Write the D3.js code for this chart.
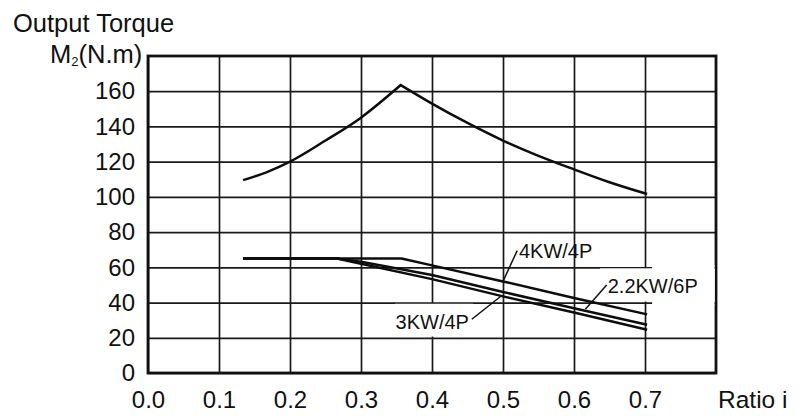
<!DOCTYPE html>
<html>
<head>
<meta charset="utf-8">
<script src="https://cdn.jsdelivr.net/npm/d3@7"></script>
<style>
  html, body { margin: 0; padding: 0; background: #fff; }
  svg { display: block; font-family: "Liberation Sans", Arial, sans-serif; }
</style>
</head>
<body>
<svg id="chart" width="799" height="416"></svg>
<script>
// Axis ticks
const ratioTicks = [0, 0.1, 0.2, 0.3, 0.4, 0.5, 0.6, 0.7];
const torqueTicks = [0, 20, 40, 60, 80, 100, 120, 140, 160];

// Peak output torque envelope: rising branch up to the peak, falling branch after it
const peakRiseRatio  = [0.134, 0.17, 0.2, 0.25, 0.3, 0.356];
const peakRiseTorque = [109.5, 114.5, 120, 132, 145, 163.5];
const peakFallRatio  = [0.356, 0.4, 0.45, 0.5, 0.55, 0.6, 0.65, 0.703];
const peakFallTorque = [163.5, 153, 142, 132, 123.3, 115.6, 108.3, 101.6];

// Motor rating curves
const kw4Ratio  = [0.134, 0.357, 0.4, 0.5, 0.6, 0.703];
const kw4Torque = [65, 65, 61.1, 52, 42.6, 33.3];

const kw22Ratio  = [0.134, 0.266, 0.3, 0.4, 0.5, 0.6, 0.703];
const kw22Torque = [65, 65, 63.2, 55.6, 46, 36.8, 27.4];

const kw3Ratio  = [0.134, 0.266, 0.3, 0.4, 0.5, 0.6, 0.703];
const kw3Torque = [65, 65, 62, 53.3, 43.5, 34.4, 24.6];

const seriesNames = ["4KW/4P", "2.2KW/6P", "3KW/4P"];

const svg = d3.select("#chart");
const x = d3.scaleLinear().domain([0, 0.8]).range([148, 716]);
const y = d3.scaleLinear().domain([0, 180]).range([373, 56]);
const W = x(0.8) - x(0), H = y(0) - y(180);

// Grid + tick labels
const xAxis = d3.axisBottom(x).tickValues(ratioTicks).tickFormat(d3.format(".1f"))
  .tickSizeInner(-H).tickSizeOuter(0).tickPadding(18);
const gx = svg.append("g").attr("transform", `translate(0,${y(0)})`).call(xAxis);
gx.select(".domain").remove();
gx.selectAll("line").attr("stroke", "#1a1a1a").attr("stroke-width", 1.7);
gx.selectAll("text").attr("font-size", 24).attr("font-family", "Liberation Sans, Arial, sans-serif").attr("fill", "#111");

const yAxis = d3.axisLeft(y).tickValues(torqueTicks).tickFormat(d3.format("d"))
  .tickSizeInner(-W).tickSizeOuter(0).tickPadding(13);
const gy = svg.append("g").attr("transform", `translate(${x(0)},0)`).call(yAxis);
gy.select(".domain").remove();
gy.selectAll("line").attr("stroke", "#1a1a1a").attr("stroke-width", 1.7);
gy.selectAll("text").attr("font-size", 24).attr("font-family", "Liberation Sans, Arial, sans-serif").attr("fill", "#111");

// Plot frame
svg.append("rect").attr("x", x(0)).attr("y", y(180)).attr("width", W).attr("height", H)
  .attr("fill", "none").attr("stroke", "#111").attr("stroke-width", 2.8);

// Backing panels behind the curve labels
const panels = [
  [x(0.648) - 8, y(60) + 1, x(0.8) - 1.5 - (x(0.648) - 8), y(40) - y(60) - 2],
  [x(0.71), y(60) - 2, x(0.8) - 1.5 - x(0.71), y(40) - y(60) + 4],
  [x(0.348), y(40) + 1.2, x(0.458) - x(0.348), y(20) - y(40) - 2.4]
];
svg.append("g").selectAll("rect").data(panels).join("rect")
  .attr("x", d => d[0]).attr("y", d => d[1]).attr("width", d => d[2]).attr("height", d => d[3])
  .attr("fill", "#fff");

// Curves
const smooth = d3.line().x(d => x(d[0])).y(d => y(d[1])).curve(d3.curveMonotoneX);
const straight = d3.line().x(d => x(d[0])).y(d => y(d[1]));
const gc = svg.append("g").attr("fill", "none").attr("stroke", "#0d0d0d")
  .attr("stroke-width", 2.5).attr("stroke-linejoin", "miter");
gc.append("path").attr("d", () => {
  const rise = smooth(d3.zip(peakRiseRatio, peakRiseTorque));
  const fall = smooth(d3.zip(peakFallRatio, peakFallTorque));
  return rise + "L" + fall.slice(1);
});
gc.selectAll("path.rating").data([
  d3.zip(kw4Ratio, kw4Torque),
  d3.zip(kw22Ratio, kw22Torque),
  d3.zip(kw3Ratio, kw3Torque)
]).join("path").attr("class", "rating").attr("d", straight).attr("stroke-linejoin", "round");

// Curve labels with leader lines (data coordinates)
const notes = [
  { name: seriesNames[0], from: [0.5, 52], to: [0.52, 69.5], text: [0.5225, 65.3], anchor: "start" },
  { name: seriesNames[1], from: [0.616, 36.2], to: [0.646, 50], text: [0.6475, 45.4], anchor: "start" },
  { name: seriesNames[2], from: [0.497, 43.6], to: [0.456, 30.5], text: [0.452, 25], anchor: "end" }
];
const gn = svg.append("g");
gn.selectAll("line").data(notes).join("line")
  .attr("x1", d => x(d.from[0])).attr("y1", d => y(d.from[1]))
  .attr("x2", d => x(d.to[0])).attr("y2", d => y(d.to[1]))
  .attr("stroke", "#111").attr("stroke-width", 1.5);
gn.selectAll("text").data(notes).join("text")
  .attr("x", d => x(d.text[0])).attr("y", d => y(d.text[1]))
  .attr("text-anchor", d => d.anchor)
  .attr("font-size", 20).attr("fill", "#111")
  .text(d => d.name);

// Axis titles
svg.append("text").attr("x", 13).attr("y", 31.5).attr("font-size", 25.5).attr("fill", "#111")
  .text("Output Torque");
const mt = svg.append("text").attr("x", 50).attr("y", 63).attr("font-size", 25.5).attr("fill", "#111");
mt.append("tspan").text("M");
mt.append("tspan").attr("font-size", 13).attr("dy", 3).text("2");
mt.append("tspan").attr("dy", -3).text("(N.m)");
svg.append("text").attr("x", 718).attr("y", 408).attr("font-size", 24.5).attr("fill", "#111")
  .text("Ratio i");
</script>
</body>
</html>
